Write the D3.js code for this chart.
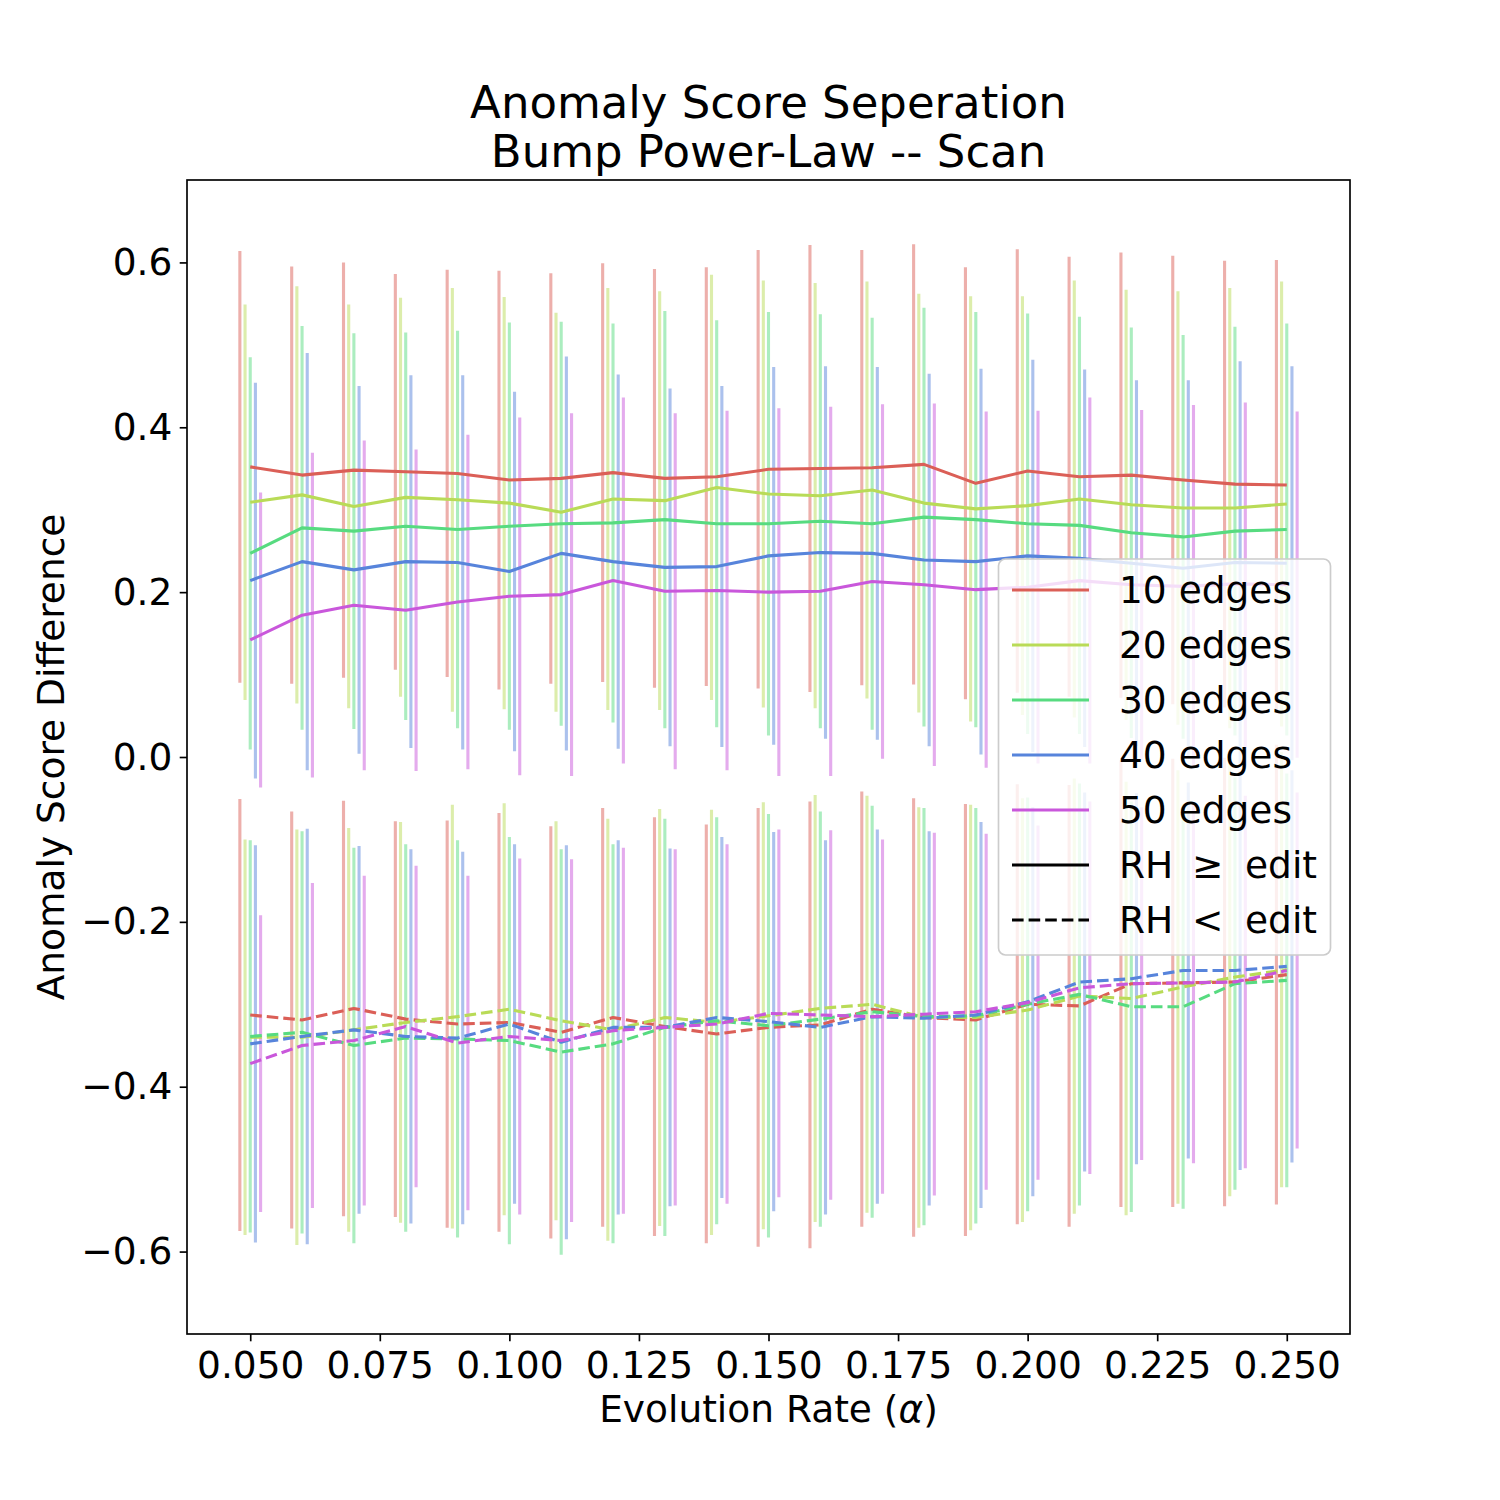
<!DOCTYPE html>
<html><head><meta charset="utf-8">
<script src="https://cdn.jsdelivr.net/npm/d3@7"></script>
<style>
body{margin:0;background:#fff}
text{font-family:"DejaVu Sans",sans-serif;fill:#000}
</style>
</head><body>
<svg id="chart" width="1500" height="1500"></svg>
<script>
// ---- data ----
const alphas = [0.05,0.06,0.07,0.08,0.09,0.10,0.11,0.12,0.13,0.14,0.15,0.16,0.17,0.18,0.19,0.20,0.21,0.22,0.23,0.24,0.25];
const seriesNames = ["10 edges","20 edges","30 edges","40 edges","50 edges"];
const seriesColors = ["#db5f57","#b9db57","#57db80","#5784db","#c957db"];
const styleNames = ["RH \u2265 edit","RH < edit"];

// RH >= edit (solid): means and error half-widths
const geMean10 = [0.352,0.342,0.348,0.346,0.344,0.336,0.338,0.345,0.338,0.340,0.349,0.350,0.351,0.355,0.332,0.347,0.340,0.342,0.336,0.331,0.330];
const geMean20 = [0.309,0.318,0.304,0.315,0.312,0.308,0.297,0.313,0.311,0.327,0.319,0.317,0.324,0.308,0.301,0.305,0.313,0.306,0.302,0.302,0.307];
const geMean30 = [0.247,0.278,0.274,0.280,0.276,0.280,0.283,0.284,0.288,0.283,0.283,0.286,0.283,0.291,0.288,0.283,0.281,0.272,0.267,0.274,0.276];
const geMean40 = [0.214,0.237,0.227,0.237,0.236,0.225,0.247,0.237,0.230,0.231,0.244,0.248,0.247,0.239,0.237,0.244,0.241,0.235,0.229,0.236,0.235];
const geMean50 = [0.142,0.172,0.184,0.178,0.188,0.195,0.197,0.214,0.201,0.202,0.200,0.201,0.213,0.209,0.203,0.206,0.214,0.209,0.207,0.210,0.209];
const geErr10 = [0.262,0.253,0.252,0.240,0.247,0.254,0.249,0.254,0.254,0.254,0.266,0.271,0.264,0.267,0.262,0.269,0.267,0.270,0.272,0.271,0.273];
const geErr20 = [0.240,0.253,0.245,0.242,0.257,0.250,0.242,0.256,0.254,0.258,0.259,0.258,0.253,0.254,0.258,0.254,0.265,0.261,0.263,0.267,0.270];
const geErr30 = [0.238,0.245,0.240,0.235,0.241,0.247,0.245,0.242,0.253,0.247,0.257,0.251,0.250,0.254,0.252,0.255,0.253,0.249,0.245,0.248,0.250];
const geErr40 = [0.240,0.253,0.223,0.226,0.227,0.218,0.239,0.227,0.217,0.219,0.229,0.226,0.226,0.226,0.234,0.238,0.229,0.222,0.228,0.244,0.239];
const geErr50 = [0.179,0.197,0.200,0.195,0.203,0.217,0.220,0.222,0.216,0.218,0.223,0.224,0.215,0.220,0.216,0.214,0.222,0.212,0.220,0.220,0.210];

// RH < edit (dashed)
const ltMean10 = [-0.313,-0.319,-0.305,-0.318,-0.324,-0.322,-0.334,-0.316,-0.327,-0.336,-0.328,-0.325,-0.306,-0.316,-0.319,-0.300,-0.302,-0.275,-0.274,-0.273,-0.264];
const ltMean20 = [-0.340,-0.340,-0.331,-0.322,-0.315,-0.306,-0.320,-0.331,-0.316,-0.322,-0.314,-0.305,-0.300,-0.316,-0.316,-0.307,-0.290,-0.293,-0.279,-0.267,-0.258];
const ltMean30 = [-0.339,-0.334,-0.350,-0.341,-0.342,-0.344,-0.358,-0.348,-0.328,-0.320,-0.326,-0.318,-0.309,-0.315,-0.314,-0.300,-0.288,-0.303,-0.303,-0.275,-0.271];
const ltMean40 = [-0.348,-0.339,-0.331,-0.339,-0.341,-0.324,-0.346,-0.328,-0.328,-0.316,-0.321,-0.328,-0.315,-0.317,-0.313,-0.297,-0.273,-0.269,-0.259,-0.259,-0.254];
const ltMean50 = [-0.372,-0.350,-0.344,-0.327,-0.347,-0.339,-0.344,-0.332,-0.328,-0.324,-0.311,-0.313,-0.315,-0.312,-0.309,-0.298,-0.280,-0.275,-0.274,-0.273,-0.259];
const ltErr10 = [0.262,0.253,0.252,0.240,0.247,0.254,0.250,0.254,0.254,0.254,0.266,0.271,0.264,0.266,0.262,0.267,0.268,0.271,0.272,0.272,0.279];
const ltErr20 = [0.240,0.252,0.245,0.243,0.257,0.250,0.242,0.256,0.253,0.258,0.259,0.259,0.253,0.255,0.258,0.257,0.264,0.263,0.263,0.266,0.264];
const ltErr30 = [0.238,0.244,0.240,0.235,0.241,0.247,0.246,0.242,0.253,0.247,0.257,0.252,0.250,0.253,0.252,0.251,0.256,0.249,0.245,0.250,0.251];
const ltErr40 = [0.241,0.252,0.223,0.227,0.226,0.218,0.239,0.227,0.217,0.219,0.230,0.227,0.227,0.227,0.234,0.236,0.230,0.225,0.228,0.242,0.238];
const ltErr50 = [0.180,0.197,0.200,0.195,0.203,0.216,0.220,0.222,0.216,0.218,0.223,0.224,0.215,0.220,0.216,0.215,0.226,0.214,0.219,0.226,0.216];

const xTicks = [0.050,0.075,0.100,0.125,0.150,0.175,0.200,0.225,0.250];
const yTicks = [-0.6,-0.4,-0.2,0.0,0.2,0.4,0.6];

// ---- build series table ----
const geMeans = [geMean10,geMean20,geMean30,geMean40,geMean50];
const geErrs  = [geErr10,geErr20,geErr30,geErr40,geErr50];
const ltMeans = [ltMean10,ltMean20,ltMean30,ltMean40,ltMean50];
const ltErrs  = [ltErr10,ltErr20,ltErr30,ltErr40,ltErr50];
const offsets = [-0.002,-0.001,0,0.001,0.002];

const series = [];
seriesNames.forEach((n,i)=>{
  series.push({name:n, color:seriesColors[i], dashed:false, mean:geMeans[i], err:geErrs[i], off:offsets[i]});
  series.push({name:n, color:seriesColors[i], dashed:true,  mean:ltMeans[i], err:ltErrs[i], off:offsets[i]});
});

// ---- layout ----
const L=187, T=180, R=1350, B=1334;
const FS = 37.5;
const svg = d3.select("#chart");
const x = d3.scaleLinear().domain([0.0378,0.2622]).range([L,R]);
const y = d3.scaleLinear().domain([-0.7,0.7]).range([B,T]);

const plot = svg.append("g");
plot.append("defs").append("clipPath").attr("id","clip")
  .append("rect").attr("x",L).attr("y",T).attr("width",R-L).attr("height",B-T);
const inner = plot.append("g").attr("clip-path","url(#clip)");

// error bars
series.forEach(s=>{
  inner.append("g").selectAll("line").data(alphas.map((a,k)=>({a, m:s.mean[k], e:s.err[k]})))
    .join("line")
    .attr("x1",d=>x(d.a+s.off)).attr("x2",d=>x(d.a+s.off))
    .attr("y1",d=>y(d.m-d.e)).attr("y2",d=>y(d.m+d.e))
    .attr("stroke",s.color).attr("stroke-opacity",0.5).attr("stroke-width",3.1);
});
// mean lines
const lineGen = d3.line().x(d=>x(d[0])).y(d=>y(d[1]));
series.forEach(s=>{
  inner.append("path").datum(alphas.map((a,k)=>[a,s.mean[k]]))
    .attr("d",lineGen).attr("fill","none").attr("stroke",s.color)
    .attr("stroke-width",3.1).attr("stroke-linejoin","round")
    .attr("stroke-dasharray", s.dashed ? "11.6,5" : null);
});

// axes
const xAxis = d3.axisBottom(x).tickValues(xTicks).tickFormat(d3.format(".3f")).tickSize(7.3).tickPadding(10);
const yAxis = d3.axisLeft(y).tickValues(yTicks).tickFormat(d3.format(".1f")).tickSize(7.3).tickPadding(7.3);
const gx = svg.append("g").attr("transform",`translate(0,${B})`).call(xAxis);
const gy = svg.append("g").attr("transform",`translate(${L},0)`).call(yAxis);
[gx,gy].forEach(g=>{
  g.select(".domain").remove();
  g.selectAll(".tick line").attr("stroke","#000").attr("stroke-width",1.67);
  g.selectAll(".tick text").attr("font-size",FS).attr("font-family","DejaVu Sans").attr("fill","#000");
});
svg.append("rect").attr("x",L).attr("y",T).attr("width",R-L).attr("height",B-T)
  .attr("fill","none").attr("stroke","#000").attr("stroke-width",1.67);

// labels
const xl = svg.append("text").attr("x",(L+R)/2).attr("y",1422).attr("text-anchor","middle").attr("font-size",FS);
xl.append("tspan").text("Evolution Rate (");
xl.append("tspan").attr("font-style","italic").text("\u03B1");
xl.append("tspan").text(")");
svg.append("text").attr("transform",`translate(64,${(T+B)/2}) rotate(-90)`).attr("text-anchor","middle").attr("font-size",FS)
  .text("Anomaly Score Difference");
svg.append("text").attr("x",(L+R)/2).attr("y",118).attr("text-anchor","middle").attr("font-size",45)
  .text("Anomaly Score Seperation");
svg.append("text").attr("x",(L+R)/2).attr("y",167).attr("text-anchor","middle").attr("font-size",45)
  .text("Bump Power-Law -- Scan");

// legend
const lg = svg.append("g");
lg.append("rect").attr("x",998.5).attr("y",559).attr("width",332).attr("height",396).attr("rx",7)
  .attr("fill","#fff").attr("fill-opacity",0.8).attr("stroke","#cccccc").attr("stroke-width",1.67);
const legendItems = seriesNames.map((n,i)=>({label:n, color:seriesColors[i], dash:null}))
  .concat([{label:styleNames[0], color:"#000", dash:null},{label:styleNames[1], color:"#000", dash:"11.6,5"}]);
legendItems.forEach((it,i)=>{
  const cy = 590 + i*55;
  lg.append("line").attr("x1",1012).attr("x2",1089).attr("y1",cy).attr("y2",cy)
    .attr("stroke",it.color).attr("stroke-width",3.1).attr("stroke-dasharray",it.dash);
  const t = lg.append("text").attr("x",1119).attr("y",cy+13).attr("font-size",FS);
  if(i<5){ t.text(it.label); }
  else {
    const parts = it.label.split(" ");
    t.append("tspan").attr("x",1119).text(parts[0]);
    t.append("tspan").attr("x",1192).text(parts[1]);
    t.append("tspan").attr("x",1245).text(parts[2]);
  }
});
</script>
</body></html>
